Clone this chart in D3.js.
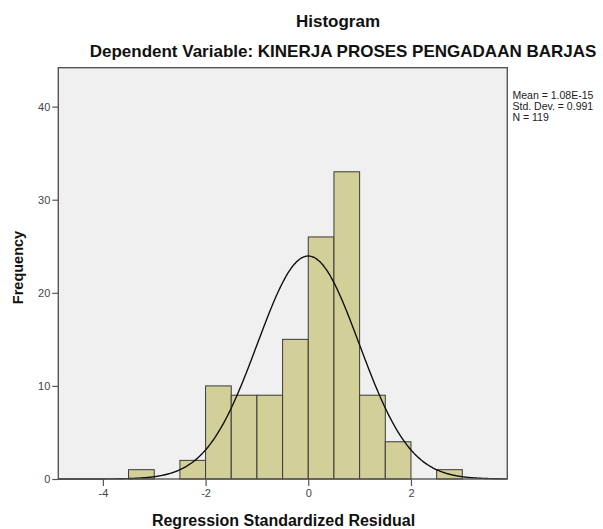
<!DOCTYPE html>
<html>
<head>
<meta charset="utf-8">
<script src="https://cdn.jsdelivr.net/npm/d3@7/dist/d3.min.js"></script>
<style>
  html, body { margin: 0; padding: 0; background: #ffffff; }
  svg { display: block; }
  text { font-family: "Liberation Sans", Arial, sans-serif; }
</style>
</head>
<body>
<script>
// ---- Data ----
const binStarts = [-3.5, -3.0, -2.5, -2.0, -1.5, -1.0, -0.5, 0.0, 0.5, 1.0, 1.5, 2.0, 2.5];
const binWidth = 0.5;
const counts = [1, 0, 2, 10, 9, 9, 15, 26, 33, 9, 4, 0, 1];
const xTicks = [-4, -2, 0, 2];
const yTicks = [0, 10, 20, 30, 40];
const statsLabels = ["Mean = 1.08E-15", "Std. Dev. = 0.991", "N = 119"];
const meanVal = 1.08e-15;
const sdVal = 0.991;
const nVal = 119;

const W = 603, H = 529;
const plot = { left: 58.3, right: 507.3, top: 67.7, bottom: 479 };

const svg = d3.select("body").append("svg").attr("width", W).attr("height", H);

const x = d3.scaleLinear().domain([-4.868, 3.876]).range([plot.left, plot.right]);
const y = d3.scaleLinear().domain([0, 44.18]).range([plot.bottom, plot.top]);

// background
svg.append("rect")
  .attr("x", plot.left).attr("y", plot.top)
  .attr("width", plot.right - plot.left).attr("height", plot.bottom - plot.top)
  .attr("fill", "#f0f0f0");

// bars
const bins = binStarts.map((s, i) => ({ x0: s, x1: s + binWidth, n: counts[i] })).filter(d => d.n > 0);
svg.append("g").selectAll("rect").data(bins).join("rect")
  .attr("x", d => x(d.x0))
  .attr("y", d => y(d.n))
  .attr("width", d => x(d.x1) - x(d.x0))
  .attr("height", d => y(0) - y(d.n))
  .attr("fill", "#d3cf98")
  .attr("stroke", "#3a3a3a")
  .attr("stroke-width", 1);

// normal curve
const pdf = v => Math.exp(-0.5 * Math.pow((v - meanVal) / sdVal, 2)) / (sdVal * Math.sqrt(2 * Math.PI));
const xs = d3.range(-4.868, 3.877, 0.02);
const line = d3.line().x(d => x(d)).y(d => y(nVal * binWidth * pdf(d))).curve(d3.curveBasis);
svg.append("path").datum(xs)
  .attr("d", line)
  .attr("fill", "none")
  .attr("stroke", "#111")
  .attr("stroke-width", 1.4);

// frame
svg.append("rect")
  .attr("x", plot.left).attr("y", plot.top)
  .attr("width", plot.right - plot.left).attr("height", plot.bottom - plot.top)
  .attr("fill", "none")
  .attr("stroke", "#555")
  .attr("stroke-width", 1.4);

// axes
const yAxis = d3.axisLeft(y).tickValues(yTicks).tickSize(6).tickPadding(2).tickFormat(d => String(d));
const gy = svg.append("g").attr("transform", `translate(${plot.left},0)`).call(yAxis);
gy.select(".domain").remove();
gy.selectAll("line").attr("stroke", "#555").attr("stroke-width", 1.2);
gy.selectAll("text").attr("fill", "#444").style("font-size", "11px");

const xAxis = d3.axisBottom(x).tickValues(xTicks).tickSize(7).tickPadding(3).tickFormat(d => String(d));
const gx = svg.append("g").attr("transform", `translate(0,${plot.bottom})`).call(xAxis);
gx.select(".domain").remove();
gx.selectAll("line").attr("stroke", "#555").attr("stroke-width", 1.2);
gx.selectAll("text").attr("fill", "#444").style("font-size", "11px");

// titles
svg.append("text").attr("x", 338).attr("y", 27).attr("text-anchor", "middle")
  .style("font-size", "17px").style("font-weight", "bold").attr("fill", "#111")
  .text("Histogram");
svg.append("text").attr("x", 343).attr("y", 57).attr("text-anchor", "middle")
  .style("font-size", "17px").style("font-weight", "bold").attr("fill", "#111")
  .text("Dependent Variable: KINERJA PROSES PENGADAAN BARJAS");

// axis labels
svg.append("text").attr("x", 283.5).attr("y", 525.7).attr("text-anchor", "middle")
  .style("font-size", "16px").style("font-weight", "bold").attr("fill", "#111")
  .text("Regression Standardized Residual");
svg.append("text").attr("transform", "translate(23,267.5) rotate(-90)").attr("text-anchor", "middle")
  .style("font-size", "14.5px").style("font-weight", "bold").attr("fill", "#111")
  .text("Frequency");

// stats legend
svg.append("g").selectAll("text").data(statsLabels).join("text")
  .attr("x", 512.5)
  .attr("y", (d, i) => 99.3 + i * 10.7)
  .style("font-size", "10.5px")
  .attr("fill", "#222")
  .text(d => d);
</script>
</body>
</html>
